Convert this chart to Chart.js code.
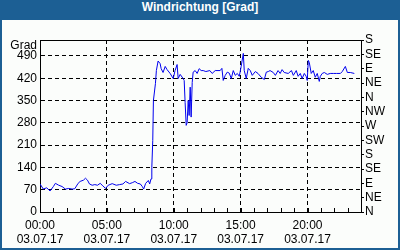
<!DOCTYPE html>
<html lang="de">
<head>
  <meta charset="UTF-8">
  <title>Windrichtung</title>
  <script src="https://cdn.jsdelivr.net/npm/chart.js"></script>
  <style>
    body { margin: 0; background: #fff; }
    #box { position: absolute; left: 0; top: 0; width: 396px; height: 228px;
           border: 2px solid #1c5f94; border-top: 20px solid #1c5f94; background: #fbfdfb; }
    #titel { position: absolute; left: 0; top: 0; width: 400px; height: 20px; line-height: 20px;
             text-align: center; color: #fff; font: bold 12px "Liberation Sans", Arial, sans-serif; }
    #wrap { width: 396px; height: 228px; }
  </style>
</head>
<body>
  <div id="box"><div id="wrap"><canvas id="chart"></canvas></div></div>
  <div id="titel">Windrichtung [Grad]</div>

  <script>
    // Stunden am 03.07.17 und Windrichtung in Grad
    const zeit = [0, 0.25, 0.5, 0.75, 1, 1.15, 1.4, 1.65, 1.9, 2.15, 2.4, 2.6, 2.85, 3, 3.25, 3.4, 3.55, 3.7, 3.9, 4.1,
      4.3, 4.5, 4.7, 4.9, 5.1, 5.4, 5.7, 5.95, 6.2, 6.4, 6.7, 6.9, 7.1, 7.3, 7.5, 7.65, 7.75, 7.9, 8.1, 8.2,
      8.3, 8.36, 8.43, 8.48, 8.63, 8.7, 8.83, 8.98, 9.06, 9.2, 9.36, 9.5, 9.73, 9.96, 10.1, 10.25, 10.33, 10.48, 10.7, 10.78,
      10.85, 10.93, 11.0, 11.08, 11.15, 11.23, 11.3, 11.38, 11.45, 11.6, 11.75, 11.9, 12.05, 12.2, 12.4, 12.7, 12.87, 13.1, 13.47, 13.6,
      13.7, 13.85, 14.0, 14.15, 14.3, 14.45, 14.6, 14.75, 14.9, 15.04, 15.2, 15.27, 15.42, 15.57, 15.72, 15.87, 16.1, 16.3, 16.54, 16.77,
      16.92, 17.07, 17.2, 17.44, 17.6, 17.8, 17.96, 18.1, 18.26, 18.56, 18.8, 18.94, 19.16, 19.3, 19.46, 19.6, 19.76, 19.9, 19.98, 20.06,
      20.13, 20.28, 20.43, 20.58, 20.73, 20.88, 20.96, 21.1, 21.26, 21.48, 21.7, 21.93, 22.16, 22.46, 22.6, 22.83, 22.98, 23.2, 23.5];
    const grad = [88, 72, 76, 66, 80, 90, 84, 80, 72, 74, 72, 73, 90, 96, 100, 106, 100, 88, 84, 86,
      84, 90, 82, 74, 84, 89, 84, 86, 88, 96, 89, 92, 96, 90, 88, 80, 72, 90, 99, 88,
      104, 140, 224, 350, 403, 444, 474, 466, 450, 438, 457, 447, 435, 419, 444, 463, 419, 432, 419, 413,
      344, 272, 280, 350, 303, 392, 298, 407, 439, 444, 435, 450, 444, 444, 441, 444, 435, 444, 444, 451,
      413, 429, 439, 436, 419, 444, 429, 435, 426, 457, 498, 444, 419, 451, 444, 429, 441, 435, 423, 416,
      439, 441, 444, 438, 429, 444, 435, 447, 438, 435, 444, 429, 444, 426, 435, 419, 435, 426, 413, 476,
      470, 435, 444, 423, 435, 410, 426, 435, 438, 432, 435, 435, 435, 435, 441, 457, 438, 438, 435];
    const richtungen = ['N', 'NE', 'E', 'SE', 'S', 'SW', 'W', 'NW', 'N', 'NE', 'E', 'SE', 'S'];
    const datum = '03.07.17';

    const schrift = { family: '"Liberation Sans", Arial, sans-serif', size: 12 };

    // kleine Striche nach innen an jeder Stunde + "Grad" oben links
    const extras = {
      id: 'extras',
      afterDraw(chart) {
        const ctx = chart.ctx;
        const x = chart.scales.x;
        const bottom = chart.chartArea.bottom;
        ctx.save();
        ctx.strokeStyle = '#000';
        ctx.lineWidth = 1;
        ctx.beginPath();
        for (let h = 1; h < 24; h++) {
          const px = Math.round(x.getPixelForValue(h)) + 0.5;
          ctx.moveTo(px, bottom);
          ctx.lineTo(px, bottom - 4);
        }
        ctx.stroke();
        ctx.fillStyle = '#000';
        ctx.font = '12px "Liberation Sans", Arial, sans-serif';
        ctx.textAlign = 'right';
        ctx.textBaseline = 'middle';
        ctx.fillText('Grad', chart.chartArea.left - 3, chart.chartArea.top + 6);
        ctx.restore();
      }
    };

    new Chart(document.getElementById('chart'), {
      type: 'line',
      data: {
        datasets: [{
          data: zeit.map((t, i) => ({ x: t, y: grad[i] })),
          borderColor: '#0000ee',
          borderWidth: 1,
          pointRadius: 0,
          tension: 0
        }]
      },
      options: {
        responsive: true,
        maintainAspectRatio: false,
        animation: false,
        layout: { padding: { top: 20, left: 0, right: 0, bottom: 0 } },
        plugins: { legend: { display: false }, tooltip: { enabled: false } },
        scales: {
          x: {
            type: 'linear',
            min: 0,
            max: 24,
            afterFit: s => { s.height = 36; },
            ticks: {
              stepSize: 1,
              autoSkip: false,
              maxRotation: 0,
              padding: 6,
              color: '#000',
              font: schrift,
              callback: v => (v % 5 === 0) ? [String(v).padStart(2, '0') + ':00', datum] : ''
            },
            grid: {
              drawTicks: false,
              color: c => (c.tick && c.tick.value % 5 === 0 && c.tick.value > 0 && c.tick.value < 24) ? '#000' : 'rgba(0,0,0,0)'
            },
            border: { display: true, color: '#000', dash: [4, 3] }
          },
          y: {
            min: 0,
            max: 540,
            afterFit: s => { s.width = 38; },
            ticks: {
              stepSize: 70,
              includeBounds: false,
              autoSkip: false,
              padding: 3,
              color: '#000',
              font: schrift
            },
            grid: {
              drawTicks: false,
              color: c => (c.tick && c.tick.value > 0 && c.tick.value < 540) ? '#000' : 'rgba(0,0,0,0)'
            },
            border: { display: true, color: '#000', dash: [4, 3] }
          },
          y2: {
            position: 'right',
            min: 0,
            max: 540,
            afterFit: s => { s.width = 37; },
            ticks: {
              stepSize: 45,
              autoSkip: false,
              padding: 1,
              color: '#000',
              font: schrift,
              callback: v => richtungen[Math.round(v / 45)]
            },
            grid: { drawOnChartArea: false, drawTicks: true, tickLength: 3, tickColor: '#000' },
            border: { display: true, color: '#000' }
          },
          x2: {
            position: 'top',
            type: 'linear',
            min: 0,
            max: 24,
            afterFit: s => { s.height = 0; },
            ticks: { display: false },
            grid: { display: false },
            border: { display: true, color: '#000' }
          }
        }
      },
      plugins: [extras]
    });
  </script>
</body>
</html>
